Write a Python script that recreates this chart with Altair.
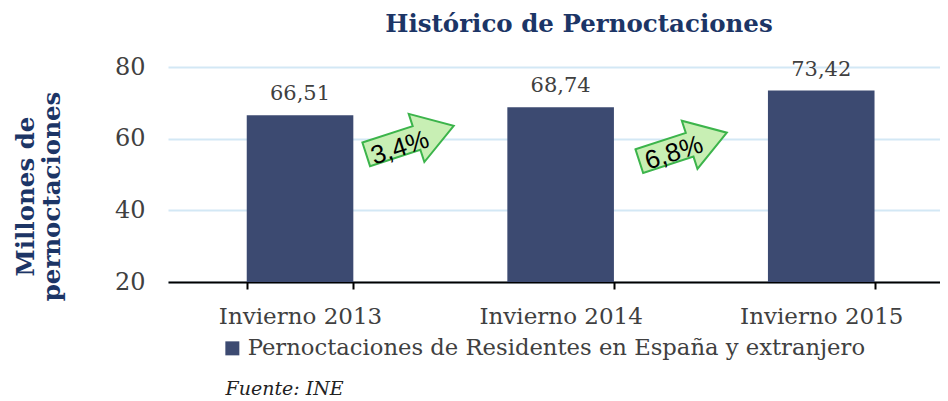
import altair as alt
import pandas as pd

categories = ["Invierno 2013", "Invierno 2014", "Invierno 2015"]
values = [66.51, 68.74, 73.42]
series_name = "Pernoctaciones de Residentes en España y extranjero"
y_ticks = [20, 40, 60, 80]

# growth arrows, placed on a category-index axis (0 = first bar centre)
growth_text = ["3,4%", "6,8%"]
growth_arrow_x = [0.422, 1.470]
growth_arrow_y = [59.6, 57.7]
growth_text_x = [0.384, 1.435]
growth_text_y = [57.4, 56.0]

FONT = "DejaVu Serif"
NAVY = "#1c3566"
BAR = "#3c4a71"
GRAY = "#404040"
ARROW = "M-1,-0.27 L0.15,-0.27 L0.15,-0.55 L1,0 L0.15,0.55 L0.15,0.27 L-1,0.27 Z"

df = pd.DataFrame({"cat": categories, "value": values, "serie": series_name})
df["label"] = [f"{v:.2f}".replace(".", ",") for v in values]

xscale = alt.Scale(domain=categories, paddingInner=0.591, paddingOuter=0.2767, align=0.546)
yscale = alt.Scale(domain=[20, 80], nice=False, zero=False)
idxscale = alt.Scale(domain=[-0.5065, 2.4559], nice=False, zero=False)

x_axis = alt.Axis(
    title="Fuente: INE", titleFont=FONT, titleFontStyle="italic", titleFontWeight="normal",
    titleFontSize=19, titleColor="#222222", titleAnchor="start", titleAlign="left",
    titleBaseline="alphabetic", titleX=57, titleY=112,
    labelFont=FONT, labelFontSize=23, labelColor=GRAY, labelPadding=16, labelAngle=0,
    domainColor="black", domainWidth=2, tickBand="extent", tickColor="black",
    tickWidth=2, tickSize=7, grid=False,
)
y_axis = alt.Axis(
    values=y_ticks, title=["Millones de", "pernoctaciones"], titleFont=FONT,
    titleFontSize=24.5, titleFontWeight="bold", titleColor=NAVY, titleAngle=270,
    titleAlign="center", titleBaseline="alphabetic", titleX=-135, titleY=129,
    titleLineHeight=26, labelFont=FONT, labelFontSize=24, labelColor=GRAY,
    labelPadding=23, domain=False, ticks=False, grid=True, gridColor="#d3e8f5", gridWidth=2,
)

base = alt.Chart(df)
bars = base.mark_bar().encode(
    x=alt.X("cat:N", scale=xscale, axis=x_axis, sort=categories),
    y=alt.Y("value:Q", scale=yscale, axis=y_axis),
    y2=alt.datum(20),
    color=alt.Color(
        "serie:N",
        scale=alt.Scale(domain=[series_name], range=[BAR]),
        legend=alt.Legend(
            title=None, orient="none", legendX=53, legendY=270, symbolType="square",
            symbolSize=196, symbolStrokeWidth=0, labelFont=FONT, labelFontSize=22.7,
            labelColor=GRAY, labelOffset=4, padding=0, labelLimit=0,
        ),
    ),
)
labels = base.mark_text(font=FONT, fontSize=21, color=GRAY, baseline="alphabetic", dy=-15).encode(
    x=alt.X("cat:N", sort=categories),
    y=alt.Y("value:Q"),
    text="label:N",
)
main = alt.layer(bars, labels)

adf = pd.DataFrame({
    "ax": growth_arrow_x, "ay": growth_arrow_y,
    "tx": growth_text_x, "ty": growth_text_y, "txt": growth_text,
})
arrows = alt.Chart(adf).mark_point(
    shape=ARROW, size=8464, filled=True, fill="#c8efb4", stroke="#3cb44b",
    strokeWidth=2, angle=342, opacity=1,
).encode(
    x=alt.X("ax:Q", scale=idxscale, axis=None),
    y=alt.Y("ay:Q", scale=yscale, axis=None),
)
arrow_txt = alt.Chart(adf).mark_text(
    font="Liberation Sans", fontSize=26, angle=342, color="black", baseline="middle"
).encode(
    x=alt.X("tx:Q", scale=idxscale, axis=None),
    y=alt.Y("ty:Q", scale=yscale, axis=None),
    text="txt:N",
)
ann = alt.layer(arrows, arrow_txt)

chart = alt.layer(main, ann).resolve_scale(x="independent", y="independent").resolve_axis(
    x="independent", y="independent"
).properties(
    width=772, height=215,
    padding={"left": 160, "top": 59, "right": 0, "bottom": 117},
    autosize=alt.AutoSizeParams(type="none"),
    title=alt.TitleParams(
        "Histórico de Pernoctaciones", font=FONT, fontSize=24.5, fontWeight="bold",
        color=NAVY, anchor="middle", dx=25, offset=18,
    ),
).configure_view(stroke=None)

chart.save("out.html", embed_options={"renderer": "svg", "actions": False})
